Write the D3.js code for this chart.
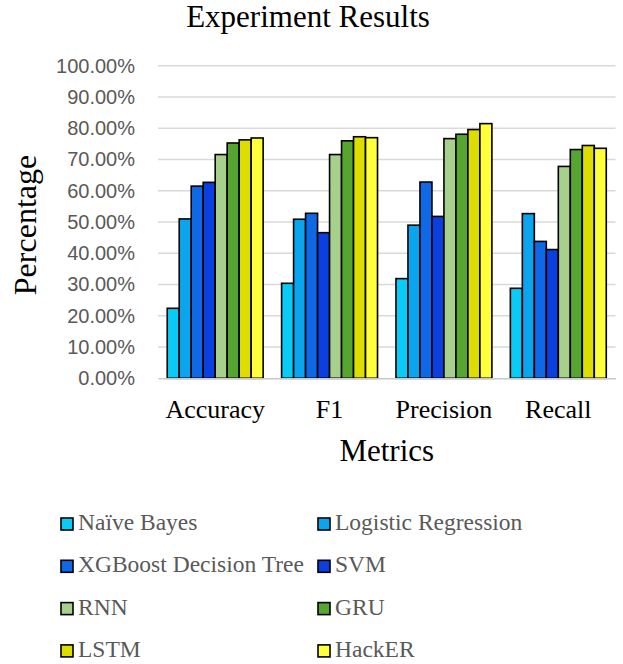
<!DOCTYPE html>
<html>
<head>
<meta charset="utf-8">
<script src="https://cdn.jsdelivr.net/npm/d3@7"></script>
<style>
  body { margin: 0; background: #fff; }
</style>
</head>
<body>
<svg width="623" height="664"></svg>
<script>
// datos del grafico
var categories = ["Accuracy", "F1", "Precision", "Recall"];
var models = ["Naïve Bayes", "Logistic Regression", "XGBoost Decision Tree", "SVM", "RNN", "GRU", "LSTM", "HackER"];
var colors = ["#0acbf6", "#0aa5ee", "#0f68e6", "#0b3fe0", "#a8d08d", "#55a530", "#dddd00", "#ffff3c"];
// valores por modelo, en el orden de categories
var naiveBayes = [0.224, 0.304, 0.319, 0.288];
var logisticRegression = [0.510, 0.509, 0.490, 0.527];
var xgboost = [0.615, 0.528, 0.628, 0.438];
var svmValues = [0.627, 0.466, 0.518, 0.412];
var rnn = [0.716, 0.716, 0.767, 0.678];
var gru = [0.753, 0.760, 0.781, 0.732];
var lstm = [0.763, 0.773, 0.796, 0.745];
var hacker = [0.769, 0.770, 0.815, 0.736];
var yTicks = [0, 0.1, 0.2, 0.3, 0.4, 0.5, 0.6, 0.7, 0.8, 0.9, 1.0];

var seriesValues = [naiveBayes, logisticRegression, xgboost, svmValues, rnn, gru, lstm, hacker];

var svg = d3.select("svg"),
    plot = {left: 158, right: 615.5, top: 65.8, bottom: 378.3};

var x0 = d3.scaleBand()
    .domain(categories)
    .range([plot.left, plot.right])
    .padding(0);

var x1 = d3.scaleBand()
    .domain(models)
    .range([0, x0.bandwidth()])
    .paddingInner(0)
    .paddingOuter(0.77);

var y = d3.scaleLinear()
    .domain([0, 1])
    .range([plot.bottom, plot.top]);

var z = d3.scaleOrdinal().domain(models).range(colors);

// lineas de la grilla
svg.append("g")
  .selectAll("line")
  .data(yTicks.slice(1))
  .enter().append("line")
    .attr("x1", plot.left).attr("x2", plot.right)
    .attr("y1", function(d) { return y(d); })
    .attr("y2", function(d) { return y(d); })
    .attr("stroke", "#d9d9d9")
    .attr("stroke-width", 1.4);

// eje Y con porcentajes
var yAxis = svg.append("g")
    .attr("transform", "translate(" + plot.left + ",0)")
    .call(d3.axisLeft(y).tickValues(yTicks).tickSize(0).tickPadding(23).tickFormat(d3.format(".2%")));
yAxis.select(".domain").remove();
yAxis.selectAll("text")
    .attr("font-family", "Liberation Sans, Arial, sans-serif")
    .attr("font-size", 20)
    .attr("fill", "#595959");

// barras
var rows = categories.map(function(c, i) {
  return { category: c, values: models.map(function(m, j) { return { key: m, value: seriesValues[j][i] }; }) };
});

svg.append("g")
  .selectAll("g")
  .data(rows)
  .enter().append("g")
    .attr("transform", function(d) { return "translate(" + x0(d.category) + ",0)"; })
  .selectAll("rect")
  .data(function(d) { return d.values; })
  .enter().append("rect")
    .attr("x", function(d) { return x1(d.key); })
    .attr("y", function(d) { return y(d.value); })
    .attr("width", x1.bandwidth())
    .attr("height", function(d) { return plot.bottom - y(d.value); })
    .attr("fill", function(d) { return z(d.key); })
    .attr("stroke", "#000")
    .attr("stroke-width", 1.6);

// eje X
var xAxis = svg.append("g")
    .attr("transform", "translate(0," + plot.bottom + ")")
    .call(d3.axisBottom(x0).tickSize(0).tickPadding(21));
xAxis.select(".domain").attr("stroke", "#c8c8c8").attr("stroke-width", 1.5);
xAxis.selectAll("text")
    .attr("font-family", "Liberation Serif, Times New Roman, serif")
    .attr("font-size", 26)
    .attr("fill", "#000")
    .attr("dy", "0.71em");

// titulos
svg.append("text")
    .attr("x", 308).attr("y", 27)
    .attr("text-anchor", "middle")
    .attr("font-family", "Liberation Serif, Times New Roman, serif")
    .attr("font-size", 31)
    .text("Experiment Results");

svg.append("text")
    .attr("transform", "translate(36,225) rotate(-90)")
    .attr("text-anchor", "middle")
    .attr("font-family", "Liberation Serif, Times New Roman, serif")
    .attr("font-size", 32)
    .text("Percentage");

svg.append("text")
    .attr("x", (plot.left + plot.right) / 2).attr("y", 461)
    .attr("text-anchor", "middle")
    .attr("font-family", "Liberation Serif, Times New Roman, serif")
    .attr("font-size", 31)
    .text("Metrics");

// leyenda en dos columnas
var legend = svg.append("g")
  .selectAll("g")
  .data(models)
  .enter().append("g")
    .attr("transform", function(d, i) { return "translate(" + (i % 2 === 0 ? 61 : 318) + "," + (530 + Math.floor(i / 2) * 42.3) + ")"; });

legend.append("rect")
    .attr("x", 0).attr("y", -12)
    .attr("width", 12).attr("height", 12)
    .attr("fill", function(d) { return z(d); })
    .attr("stroke", "#000")
    .attr("stroke-width", 1.6);

legend.append("text")
    .attr("x", 17).attr("y", 0)
    .attr("font-family", "Liberation Serif, Times New Roman, serif")
    .attr("font-size", 23.5)
    .attr("fill", "#595959")
    .text(function(d) { return d; });
</script>
</body>
</html>
